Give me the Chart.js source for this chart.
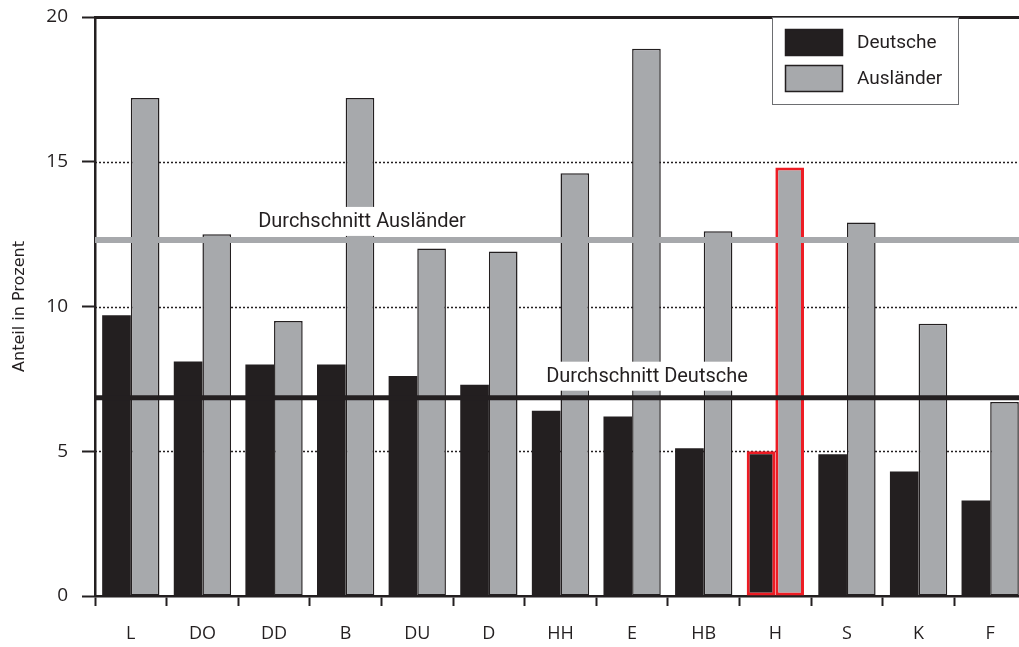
<!DOCTYPE html>
<html>
<head>
<meta charset="utf-8">
<script src="https://cdn.jsdelivr.net/npm/chart.js@4"></script>
<style>
  html, body { margin: 0; padding: 0; background: #fff; overflow: hidden; }
  canvas { display: block; }
</style>
</head>
<body>
<canvas id="myChart" width="1026" height="647"></canvas>
<script>
// Werte
var categories = ["L", "DO", "DD", "B", "DU", "D", "HH", "E", "HB", "H", "S", "K", "F"];
var deutsche = [9.7, 8.1, 8.0, 8.0, 7.6, 7.3, 6.4, 6.2, 5.1, 5.0, 4.9, 4.3, 3.3];
var auslaender = [17.2, 12.5, 9.5, 17.2, 12.0, 11.9, 14.6, 18.9, 12.6, 14.8, 12.9, 9.4, 6.7];
var avgDeutsche = 6.85;
var avgAuslaender = 12.3;
var yTicks = [0, 5, 10, 15, 20];
var highlight = "H";

var BLACK = "#231f20";
var GREY = "#a7a9ac";
var RED = "#ed1c24";
var FONT = "Roboto, 'Liberation Sans', sans-serif";
var FONT2 = "'Open Sans', 'Liberation Sans', sans-serif";

var blackBorder = categories.map(function (c) { return c === highlight ? RED : BLACK; });
var blackWidth = categories.map(function (c) { return c === highlight ? 3 : 0; });
var greyBorder = categories.map(function (c) { return c === highlight ? RED : BLACK; });
var greyWidth = categories.map(function (c) { return c === highlight ? 3 : 1.5; });

// Gitterlinien (gepunktet) und obere Linie
var gridPlugin = {
    id: "gridPlugin",
    beforeDatasetsDraw: function (chart) {
        var ctx = chart.ctx, a = chart.chartArea, y = chart.scales.y;
        ctx.save();
        y.ticks.forEach(function (t) {
            if (t.value === 0) return;
            var py = Math.round(y.getPixelForValue(t.value)) + 0.5;
            ctx.beginPath();
            if (t.value === 20) {
                ctx.setLineDash([]);
                ctx.lineWidth = 3;
            } else {
                ctx.setLineDash([2, 2]);
                ctx.lineWidth = 1.5;
            }
            ctx.strokeStyle = BLACK;
            ctx.moveTo(a.left, py);
            ctx.lineTo(a.right, py);
            ctx.stroke();
        });
        ctx.restore();
    }
};

// Durchschnittslinien mit Beschriftung
function drawAvg(chart, value, color, width, text, cx, dy) {
    var ctx = chart.ctx, a = chart.chartArea;
    var py = chart.scales.y.getPixelForValue(value);
    ctx.save();
    ctx.strokeStyle = color;
    ctx.lineWidth = width;
    ctx.beginPath();
    ctx.moveTo(a.left, py);
    ctx.lineTo(a.right, py);
    ctx.stroke();
    ctx.font = "20px " + FONT;
    var w = ctx.measureText(text).width;
    var x = a.left + cx;
    ctx.fillStyle = "#fff";
    ctx.fillRect(x - w / 2 - 6, py - dy - 15, w + 12, 29);
    ctx.fillStyle = BLACK;
    ctx.textAlign = "center";
    ctx.textBaseline = "middle";
    ctx.fillText(text, x, py - dy);
    ctx.restore();
}

var avgPlugin = {
    id: "avgPlugin",
    afterDatasetsDraw: function (chart) {
        drawAvg(chart, avgAuslaender, GREY, 6, "Durchschnitt Ausländer", 267, 18);
        drawAvg(chart, avgDeutsche, BLACK, 5, "Durchschnitt Deutsche", 552, 21);
    }
};

// Legende im Diagramm
var legendPlugin = {
    id: "legendPlugin",
    afterDraw: function (chart) {
        var ctx = chart.ctx;
        var bx = 772, by = 17, bw = 186, bh = 87;
        ctx.save();
        ctx.fillStyle = "#fff";
        ctx.fillRect(bx, by, bw, bh);
        ctx.strokeStyle = "#6d6e71";
        ctx.lineWidth = 1;
        ctx.strokeRect(bx + 0.5, by + 0.5, bw, bh);
        chart.data.datasets.forEach(function (ds, i) {
            var sy = by + 12 + i * 36;
            ctx.fillStyle = ds.legendFill;
            ctx.fillRect(785, sy, 58, 27);
            ctx.strokeStyle = BLACK;
            ctx.lineWidth = 1.5;
            ctx.strokeRect(785.5, sy + 0.5, 57, 26);
            ctx.fillStyle = BLACK;
            ctx.font = "19px " + FONT;
            ctx.textBaseline = "middle";
            ctx.fillText(ds.label, 857, sy + 14);
        });
        ctx.restore();
    }
};

document.addEventListener("DOMContentLoaded", function () {
    var ctx = document.getElementById("myChart").getContext("2d");
    var myChart = new Chart(ctx, {
        type: "bar",
        data: {
            labels: categories,
            datasets: [{
                label: "Deutsche",
                data: deutsche,
                backgroundColor: BLACK,
                legendFill: BLACK,
                borderColor: blackBorder,
                borderWidth: blackWidth,
                borderSkipped: false
            }, {
                label: "Ausländer",
                data: auslaender,
                backgroundColor: GREY,
                legendFill: GREY,
                borderColor: greyBorder,
                borderWidth: greyWidth,
                borderSkipped: false
            }]
        },
        options: {
            responsive: false,
            animation: false,
            layout: { padding: { top: 17, left: 0, right: 0, bottom: 0 } },
            categoryPercentage: 0.8,
            barPercentage: 1.0,
            plugins: {
                legend: { display: false },
                tooltip: { enabled: false }
            },
            scales: {
                x: {
                    grid: {
                        offset: true,
                        drawOnChartArea: false,
                        drawTicks: true,
                        tickLength: 10,
                        tickColor: BLACK,
                        tickWidth: 2
                    },
                    border: { display: true, color: BLACK, width: 2.5 },
                    ticks: {
                        color: BLACK,
                        padding: 17,
                        font: { family: FONT2, size: 18 }
                    },
                    afterFit: function (s) { s.height = 51; }
                },
                y: {
                    min: 0,
                    max: 20,
                    afterBuildTicks: function (s) {
                        s.ticks = yTicks.map(function (v) { return { value: v }; });
                    },
                    grid: {
                        drawOnChartArea: false,
                        drawTicks: true,
                        tickLength: 13,
                        tickColor: BLACK,
                        tickWidth: 2
                    },
                    border: { display: true, color: BLACK, width: 2.5 },
                    ticks: {
                        color: BLACK,
                        padding: 14,
                        font: { family: FONT2, size: 19 }
                    },
                    title: {
                        display: true,
                        text: "Anteil in Prozent",
                        color: BLACK,
                        padding: { top: 10, bottom: 0 },
                        font: { family: "'DejaVu Sans', sans-serif", size: 16 }
                    },
                    afterFit: function (s) {
                        s.width = 95;
                        s.paddingTop = 0;
                        s.paddingBottom = 0;
                    }
                }
            }
        },
        plugins: [gridPlugin, avgPlugin, legendPlugin]
    });
});
</script>
</body>
</html>
